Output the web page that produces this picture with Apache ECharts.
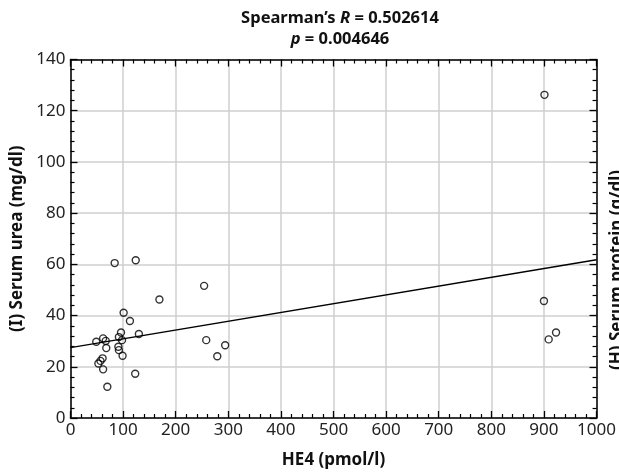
<!DOCTYPE html>
<html>
<head>
<meta charset="utf-8">
<script src="https://cdn.jsdelivr.net/npm/echarts@6/dist/echarts.min.js"></script>
<style>
html, body { margin: 0; padding: 0; background: #fff; }
#main { width: 619px; height: 474px; }
</style>
</head>
<body>
<div id="main"></div>
<script>
// HE4 (pmol/l) vs serum urea (mg/dl)
var he4 = [84, 124, 254, 169, 101, 113, 96, 130, 92, 98, 62, 49, 67, 68, 91, 92, 99, 61, 57, 53, 62, 123, 70, 258, 279, 294, 901, 900, 923, 909];
var urea = [60.5, 61.6, 51.6, 46.3, 41.1, 37.9, 33.4, 32.8, 31.6, 30.4, 31.1, 29.8, 30.1, 27.3, 27.8, 26.5, 24.3, 23.3, 22.3, 21.3, 19.0, 17.3, 12.2, 30.4, 24.1, 28.4, 126.2, 45.7, 33.4, 30.7];

// fitted line, read at both ends of the axis
var fitX = [0, 1000];
var fitY = [27.5, 61.8];

var xTicks = [0, 100, 200, 300, 400, 500, 600, 700, 800, 900, 1000];
var yTicks = [0, 20, 40, 60, 80, 100, 120, 140];

var points = he4.map(function (v, i) { return [v, urea[i]]; });
var fitLine = fitX.map(function (v, i) { return [v, fitY[i]]; });

var labelFont = { fontFamily: 'Noto Sans', fontSize: 17, color: '#222' };
var nameFont = { fontFamily: 'Noto Sans', fontSize: 17, fontWeight: 'bold', color: '#111' };

var line = { show: true, onZero: false, lineStyle: { color: '#000', width: 1.5 } };
var tick = { inside: true, length: 7, lineStyle: { color: '#000', width: 1.3 } };
var minor = { show: true, splitNumber: 5, length: 4, lineStyle: { color: '#000', width: 1.2 } };

var myChart = echarts.init(document.getElementById('main'));

var option = {
    animation: false,
    title: {
        left: 335,
        textAlign: 'center',
        top: 3,
        text: "{n|Spearman\u2019s }{i|R}{n| = 0.502614}\n{i|p}{n| = 0.004646}",
        textStyle: {
            rich: {
                n: { fontFamily: 'Noto Sans', fontSize: 16.5, fontWeight: 'bold', color: '#111', lineHeight: 21 },
                i: { fontFamily: 'Noto Sans', fontSize: 16.5, fontWeight: 'bold', fontStyle: 'italic', color: '#111', lineHeight: 21 }
            }
        }
    },
    grid: { left: 70.5, right: 20, top: 59.5, bottom: 56 },
    xAxis: [{
        type: 'value',
        min: xTicks[0],
        max: xTicks[xTicks.length - 1],
        interval: 100,
        name: 'HE4 (pmol/l)',
        nameLocation: 'middle',
        nameGap: 34,
        nameTextStyle: nameFont,
        axisLine: line,
        axisTick: tick,
        minorTick: minor,
        axisLabel: Object.assign({ margin: 4, formatter: function (v) { return String(v); } }, labelFont),
        splitLine: { lineStyle: { color: '#cfcfcf', width: 1.5 } }
    }, {
        type: 'value',
        position: 'top',
        min: xTicks[0],
        max: xTicks[xTicks.length - 1],
        interval: 100,
        axisLine: line,
        axisTick: tick,
        minorTick: minor,
        axisLabel: { show: false },
        splitLine: { show: false }
    }],
    yAxis: [{
        type: 'value',
        min: yTicks[0],
        max: yTicks[yTicks.length - 1],
        interval: 20,
        name: '(I) Serum urea (mg/dl)',
        nameLocation: 'middle',
        nameGap: 43,
        nameTextStyle: nameFont,
        axisLine: line,
        axisTick: tick,
        minorTick: minor,
        axisLabel: Object.assign({ margin: 5 }, labelFont),
        splitLine: { lineStyle: { color: '#cfcfcf', width: 1.5 } }
    }, {
        type: 'value',
        position: 'right',
        min: yTicks[0],
        max: yTicks[yTicks.length - 1],
        interval: 20,
        axisLine: line,
        axisTick: tick,
        minorTick: minor,
        axisLabel: { show: false },
        splitLine: { show: false }
    }],
    graphic: [{
        type: 'text',
        x: 617,
        y: 270,
        rotation: Math.PI / 2,
        style: {
            text: '(H) Serum protein (g/dl)',
            fontFamily: 'Noto Sans',
            fontSize: 17,
            fontWeight: 'bold',
            fill: '#111',
            align: 'center',
            verticalAlign: 'middle'
        }
    }],
    series: [{
        type: 'line',
        data: fitLine,
        showSymbol: false,
        symbol: 'none',
        lineStyle: { color: '#000', width: 1.3 },
        z: 3
    }, {
        type: 'scatter',
        data: points,
        symbol: 'circle',
        symbolSize: 7,
        itemStyle: { color: 'rgba(0,0,0,0)', borderColor: '#000', borderWidth: 1.4 },
        z: 4
    }]
};
myChart.setOption(option);
</script>
</body>
</html>
